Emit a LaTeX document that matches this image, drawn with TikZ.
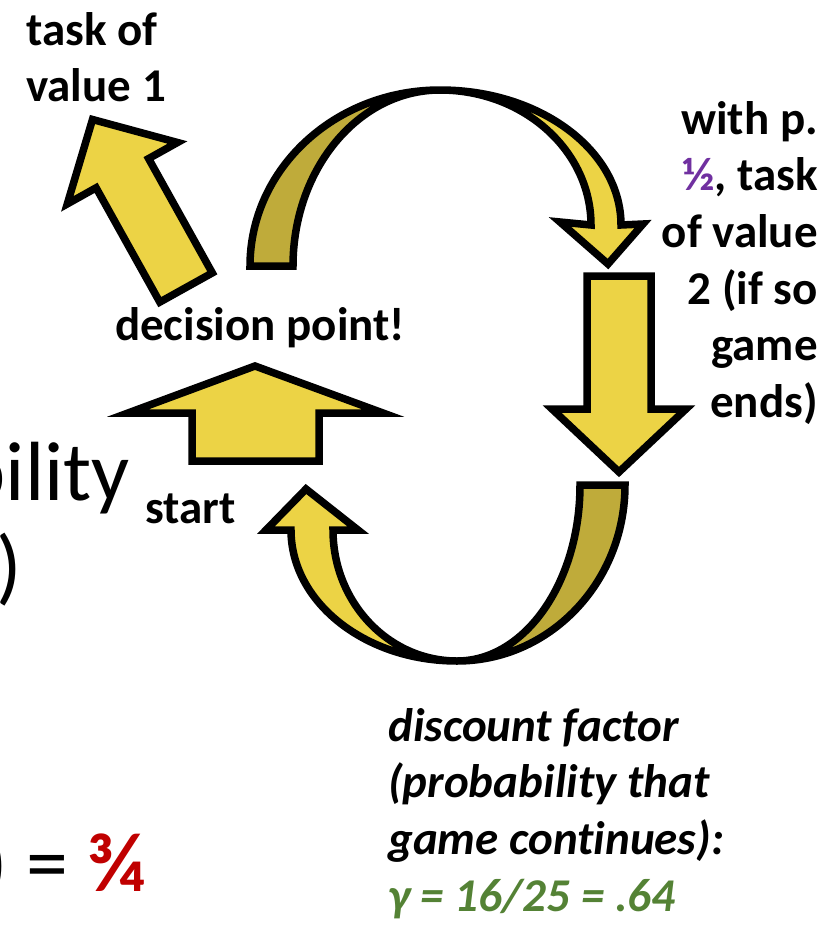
\documentclass[tikz,border=0pt]{standalone}
\usepackage{fontspec}
\setmainfont{Carlito}[Ligatures=NoCommon]
\definecolor{arrowyellow}{RGB}{236,211,69}
\definecolor{arrowolive}{RGB}{191,171,58}
\definecolor{halfpurple}{RGB}{112,48,160}
\definecolor{quarterred}{RGB}{192,0,0}
\definecolor{gammagreen}{RGB}{84,130,53}

\begin{document}
\begin{tikzpicture}[
  x=1pt,
  y=-1pt,
  blockarrow/.style={
    draw=black,
    fill=arrowyellow,
    line width=7.5pt,
    line join=miter
  },
  backarrow/.style={
    blockarrow,
    fill=arrowolive
  },
  note/.style={
    font=\fontsize{47}{56.7}\selectfont\bfseries,
    inner sep=0pt
  },
  italicnote/.style={
    note,
    font=\fontsize{47}{56.7}\selectfont\bfseries\itshape
  },
  bigtext/.style={
    font=\fontsize{84}{100}\selectfont,
    inner sep=0pt
  }
]

\useasboundingbox (0,0) rectangle (833,929);
\clip (0,0) rectangle (833,929);

\draw[backarrow] (250,266) arc[start angle=180, end angle=270, x radius=190, y radius=176]
  arc[start angle=270, end angle=180, x radius=147, y radius=176] -- cycle;
\draw[blockarrow] (440,90) arc[start angle=270, end angle=360, x radius=181, y radius=135]
  -- (643,224) -- (608,264) -- (560,222) -- (591,225)
  arc[start angle=0, end angle=-90, x radius=151, y radius=135] -- cycle;

\draw[blockarrow] (587,276) -- (651,276) -- (651,409) -- (686,409) -- (619,472)
  -- (552,409) -- (587,409) -- cycle;

\draw[backarrow] (625,485) arc[start angle=0, end angle=90, x radius=168, y radius=176]
  arc[start angle=90, end angle=0, x radius=123, y radius=176] -- cycle;
\draw[blockarrow] (291,530) -- (266,530) -- (306,489) -- (358,530) -- (333,530)
  arc[start angle=180, end angle=90, x radius=124, y radius=131]
  arc[start angle=90, end angle=180, x radius=166, y radius=131] -- cycle;

\draw[blockarrow] (192,461) -- (192,413) -- (128,413) -- (255,366) -- (383,413)
  -- (319,413) -- (319,461) -- cycle;

\draw[blockarrow] (212.3,272.9) -- (148.6,158.6) -- (177.5,142.5) -- (92.5,119.5)
  -- (67.3,203.9) -- (96.1,187.8) -- (159.8,302.1) -- cycle;

\node[note, anchor=north west, align=left] (taskone) at (26,12) {task of\\value 1};
\node[note, anchor=base] (decision) at (260,340) {decision point!};
\node[note, anchor=base west] (start) at (145,523) {start};
\node[note, anchor=north east, align=right] (choice) at (818,101)
  {with p.\\{\color{halfpurple}½}, task\\of value\\2 (if so\\game\\ends)};
\node[italicnote, anchor=north west, align=left] (discount) at (388,708)
  {discount factor\\(probability that\\game continues):\\{\color{gammagreen}γ = 16/25 = .64}};

\node[bigtext, anchor=base east] (bility) at (130,500) {bility};
\node[bigtext, anchor=base west] (paren) at (-4,594) {)};
\node[bigtext, anchor=base west] (ratio) at (-18,891) {) = {\color{quarterred}\bfseries ¾}};

\end{tikzpicture}
\end{document}
